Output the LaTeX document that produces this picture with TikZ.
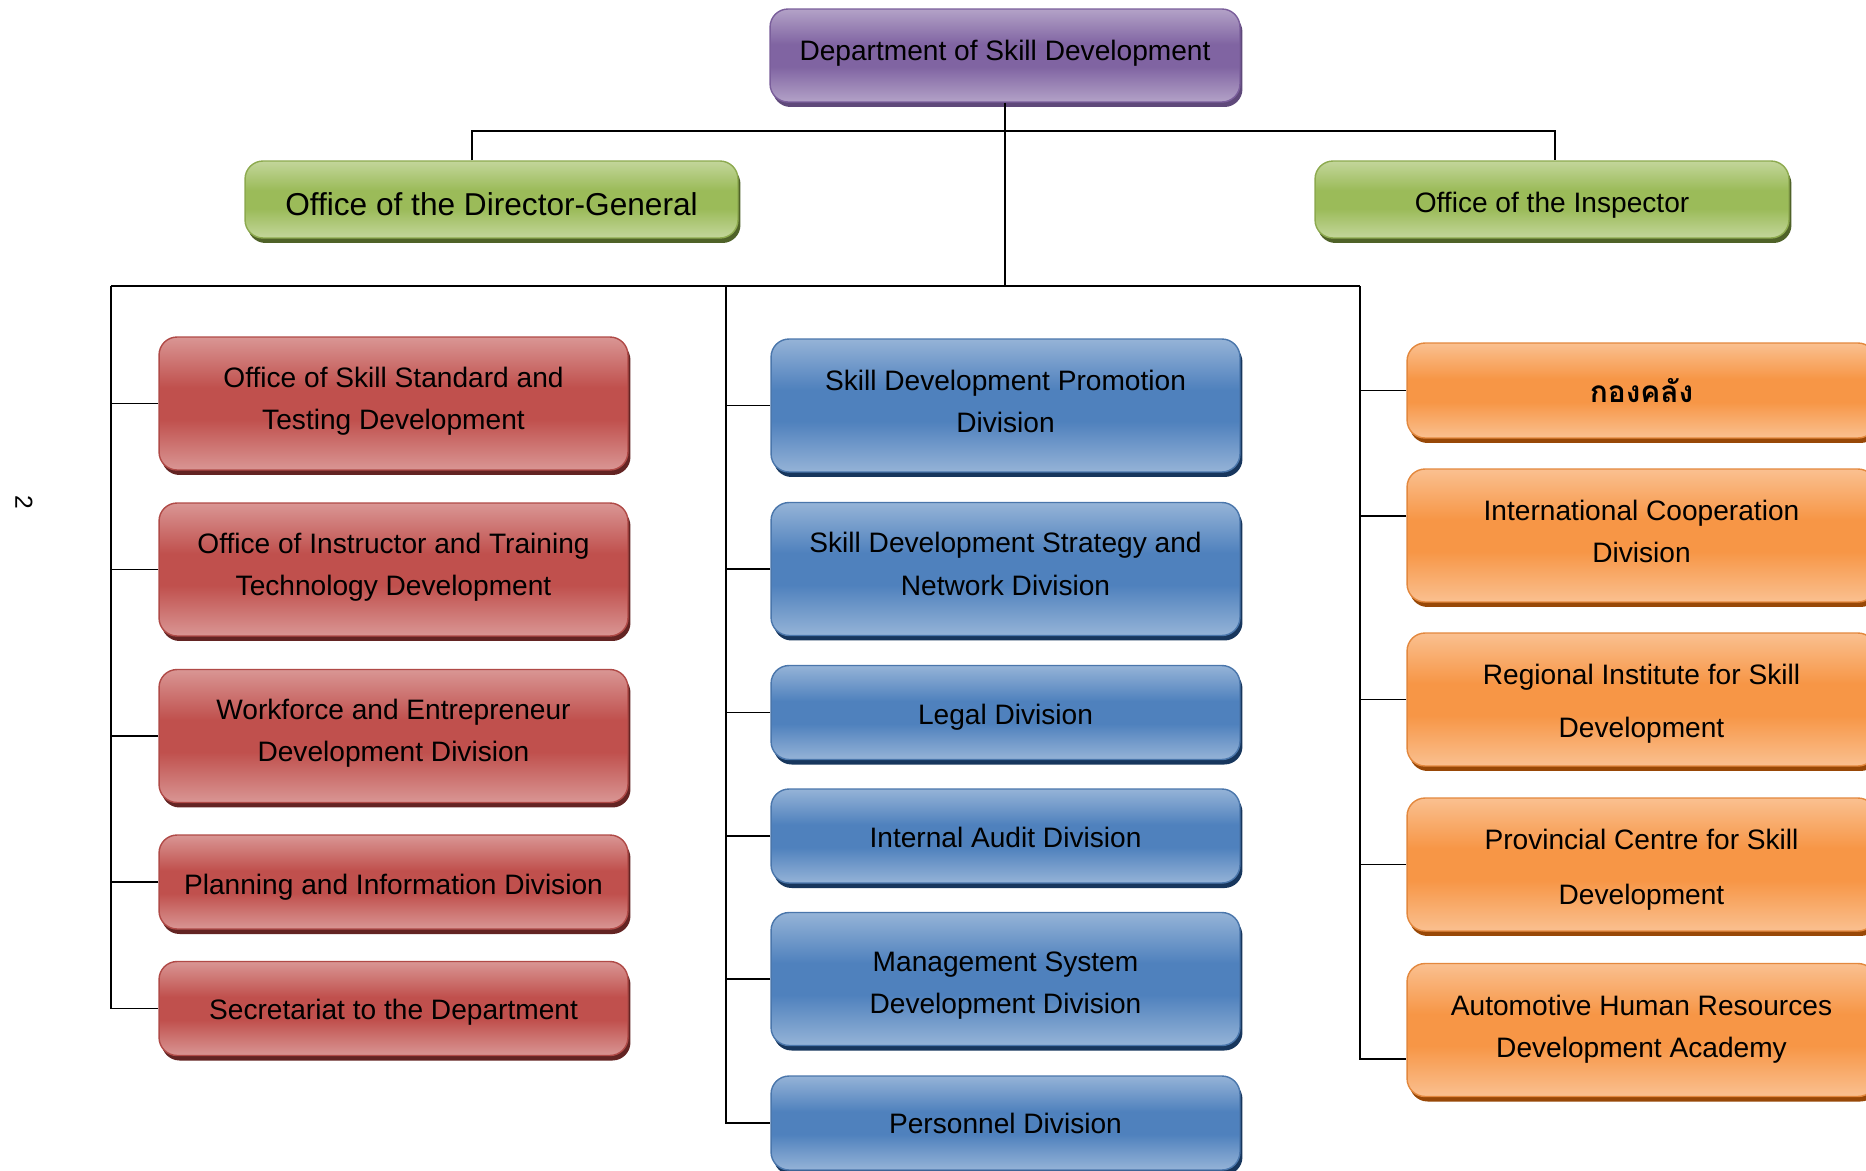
\documentclass[tikz,border=0pt]{standalone}
\usepackage{fontspec}
\setmainfont{Liberation Sans}
\newfontfamily\thaifont[Script=Thai]{Loma}
\usetikzlibrary{shadows}
\definecolor{purpleL}{HTML}{B3A2C7}\definecolor{purpleM}{HTML}{8064A2}\definecolor{purpleB}{HTML}{7A5E9B}\definecolor{purpleS}{HTML}{5F497A}
\definecolor{greenL}{HTML}{C3D69B}\definecolor{greenM}{HTML}{9BBB59}\definecolor{greenB}{HTML}{8DAA4F}\definecolor{greenS}{HTML}{4F6228}
\definecolor{redL}{HTML}{D99694}\definecolor{redM}{HTML}{C0504D}\definecolor{redB}{HTML}{B04A47}\definecolor{redS}{HTML}{632423}
\definecolor{blueL}{HTML}{95B3D7}\definecolor{blueM}{HTML}{4F81BD}\definecolor{blueB}{HTML}{4A76AB}\definecolor{blueS}{HTML}{17365D}
\definecolor{orangeL}{HTML}{FAC090}\definecolor{orangeM}{HTML}{F79646}\definecolor{orangeB}{HTML}{E3883E}\definecolor{orangeS}{HTML}{984807}
\pgfdeclareverticalshading{purpleshade}{100bp}{color(0bp)=(purpleL); color(25bp)=(purpleL); color(44bp)=(purpleM); color(56bp)=(purpleM); color(75bp)=(purpleL); color(100bp)=(purpleL)}
\pgfdeclareverticalshading{greenshade}{100bp}{color(0bp)=(greenL); color(25bp)=(greenL); color(44bp)=(greenM); color(56bp)=(greenM); color(75bp)=(greenL); color(100bp)=(greenL)}
\pgfdeclareverticalshading{redshade}{100bp}{color(0bp)=(redL); color(25bp)=(redL); color(44bp)=(redM); color(56bp)=(redM); color(75bp)=(redL); color(100bp)=(redL)}
\pgfdeclareverticalshading{blueshade}{100bp}{color(0bp)=(blueL); color(25bp)=(blueL); color(44bp)=(blueM); color(56bp)=(blueM); color(75bp)=(blueL); color(100bp)=(blueL)}
\pgfdeclareverticalshading{orangeshade}{100bp}{color(0bp)=(orangeL); color(25bp)=(orangeL); color(44bp)=(orangeM); color(56bp)=(orangeM); color(75bp)=(orangeL); color(100bp)=(orangeL)}
\begin{document}
\begin{tikzpicture}[x=0.02cm,y=-0.02cm,
  box/.style={rectangle, rounded corners=0.36cm, inner sep=0pt, line width=0.8pt},
  pbox/.style={box, shading=purpleshade, draw=purpleB,
    drop shadow={shadow xshift=0.05cm, shadow yshift=-0.1cm, fill=purpleS, opacity=1}},
  gbox/.style={box, shading=greenshade, draw=greenB,
    drop shadow={shadow xshift=0.05cm, shadow yshift=-0.1cm, fill=greenS, opacity=1}},
  rbox/.style={box, shading=redshade, draw=redB, minimum width=9.38cm,
    drop shadow={shadow xshift=0.05cm, shadow yshift=-0.1cm, fill=redS, opacity=1}},
  bbox/.style={box, shading=blueshade, draw=blueB, minimum width=9.38cm,
    drop shadow={shadow xshift=0.05cm, shadow yshift=-0.1cm, fill=blueS, opacity=1}},
  obox/.style={box, shading=orangeshade, draw=orangeB, minimum width=9.38cm,
    drop shadow={shadow xshift=0.05cm, shadow yshift=-0.1cm, fill=orangeS, opacity=1}},
  tall/.style={minimum height=2.66cm},
  short/.style={minimum height=1.88cm},
  txt/.style={align=center, inner sep=0pt, text=black, font=\fontsize{16}{24}\selectfont},
  conn/.style={line width=1pt, black}]
\useasboundingbox (0,0) rectangle (1866,1170);
\clip (0,0) rectangle (1866,1170);
\fill[white] (0,0) rectangle (1866,1170);

% top level
\node[pbox, minimum width=9.4cm, minimum height=1.86cm] (top) at (1005,55.5) {};
\node[txt] (topt) at ([yshift=0.05cm]top.center) {Department of Skill Development};
\node[gbox, minimum width=9.86cm, minimum height=1.54cm] (dg) at (491.5,199.5) {};
\node[txt, font=\fontsize{18}{22}\selectfont] (dgt) at ([yshift=-0.1cm]dg.center) {Office of the Director-General};
\node[gbox, minimum width=9.48cm, minimum height=1.54cm] (insp) at (1552,199.5) {};
\node[txt] (inspt) at ([yshift=-0.12cm]insp.center) {Office of the Inspector};

% red column
\node[rbox, tall] (r1) at (393.5,403.5) {};
\node[txt] (r1t) at ([yshift=0.04cm]r1.center) {Office of Skill Standard and\\Testing Development};
\node[rbox, tall] (r2) at (393.5,569.5) {};
\node[txt] (r2t) at ([yshift=0.04cm]r2.center) {Office of Instructor and Training\\Technology Development};
\node[rbox, tall] (r3) at (393.5,736) {};
\node[txt] (r3t) at ([yshift=0.05cm]r3.center) {Workforce and Entrepreneur\\Development Division};
\node[rbox, short] (r4) at (393.5,882) {};
\node[txt] (r4t) at ([yshift=-0.1cm]r4.center) {Planning and Information Division};
\node[rbox, short] (r5) at (393.5,1008.5) {};
\node[txt] (r5t) at ([yshift=-0.07cm]r5.center) {Secretariat to the Department};

% blue column
\node[bbox, tall] (b1) at (1005.5,405.5) {};
\node[txt] (b1t) at ([yshift=0.08cm]b1.center) {Skill Development Promotion\\Division};
\node[bbox, tall] (b2) at (1005.5,569) {};
\node[txt] (b2t) at ([yshift=0.1cm]b2.center) {Skill Development Strategy and\\Network Division};
\node[bbox, short] (b3) at (1005.5,712.5) {};
\node[txt] (b3t) at ([yshift=-0.1cm]b3.center) {Legal Division};
\node[bbox, short] (b4) at (1005.5,836) {};
\node[txt] (b4t) at ([yshift=-0.02cm]b4.center) {Internal Audit Division};
\node[bbox, tall] (b5) at (1005.5,979) {};
\node[txt] (b5t) at ([yshift=-0.14cm]b5.center) {Management System\\Development Division};
\node[bbox, short] (b6) at (1005.5,1123) {};
\node[txt] (b6t) at (b6.center) {Personnel Division};

% orange column
\node[obox, minimum height=1.9cm] (o1) at (1641.5,390.5) {};
\node[txt, font=\fontsize{17}{24}\selectfont] (o1t) at (o1.center) {\thaifont\bfseries กองคลัง};
\node[obox, tall] (o2) at (1641.5,535.5) {};
\node[txt] (o2t) at ([yshift=0.08cm]o2.center) {International Cooperation\\Division};
\node[obox, tall] (o3) at (1641.5,699.5) {};
\node[txt] (o3t) at ([yshift=-0.08cm]o3.center) {Regional Institute for Skill\\[6pt]Development};
\node[obox, tall] (o4) at (1641.5,864.5) {};
\node[txt] (o4t) at ([yshift=-0.1cm]o4.center) {Provincial Centre for Skill\\[7pt]Development};
\node[obox, tall] (o5) at (1641.5,1030) {};
\node[txt] (o5t) at ([yshift=0.02cm]o5.center) {Automotive Human Resources\\Development Academy};

% page number
\node[rotate=-90, font=\fontsize{14}{14}\selectfont, inner sep=0pt] (pg) at (24,502) {2};

% connectors
\coordinate (j1) at (1005,131);
\coordinate (j2) at (1005,286);
\coordinate (bl) at (111,286);
\coordinate (bm) at (726,286);
\coordinate (br) at (1360,286);
\draw[conn] (top.south) -- (j2);
\draw[conn] ([xshift=-0.39cm]dg.north) |- (j1) -| ([xshift=0.06cm]insp.north);
\draw[conn] (bl) -- (br);

\draw[conn] (bl) |- (r5.west);
\foreach \n in {r1,r2,r3,r4} \draw[conn] (\n.west) -- (\n.west -| bl);

\draw[conn] (bm) |- (b6.west);
\foreach \n in {b1,b2,b3,b4,b5} \draw[conn] (\n.west) -- (\n.west -| bm);

\draw[conn] (br) |- ([yshift=-0.58cm]o5.west);
\draw[conn] (o1.west) -- (o1.west -| br);
\draw[conn] ([yshift=0.39cm]o2.west) -- ([yshift=0.39cm]o2.west -| br);
\draw[conn] (o3.west) -- (o3.west -| br);
\draw[conn] (o4.west) -- (o4.west -| br);
\end{tikzpicture}
\end{document}
